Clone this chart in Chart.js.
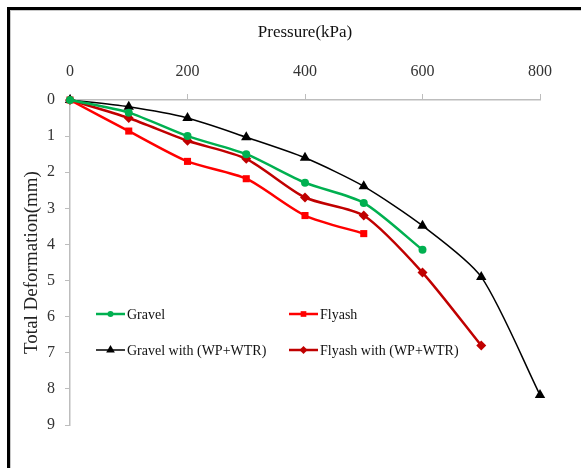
<!DOCTYPE html>
<html>
<head>
<meta charset="utf-8">
<script src="https://cdn.jsdelivr.net/npm/chart.js@4"></script>
<style>
  html, body { margin: 0; padding: 0; background: #fff; }
  #wrap { position: relative; width: 581px; height: 468px; overflow: hidden; }
  #frame { position: absolute; left: 7px; top: 7px; width: 600px; height: 500px;
           border-left: 3px solid #000; border-top: 3px solid #000; box-sizing: border-box; }
  #frame2 { position: absolute; left: 10px; top: 10px; width: 600px; height: 500px;
            border-left: 1px solid #c8c8c8; border-top: 1px solid #c8c8c8; box-sizing: border-box; }
  canvas { position: absolute; left: 0; top: 0; }
</style>
</head>
<body>
<div id="wrap">
  <div id="frame"></div>
  <div id="frame2"></div>
  <canvas id="chart" width="581" height="468"></canvas>
</div>
<script>
// Data
const pressure = [0, 100, 200, 300, 400, 500, 600, 700, 800];
const gravel = [0, 0.35, 1.0, 1.5, 2.29, 2.85, 4.15];
const flyash = [0, 0.86, 1.7, 2.18, 3.2, 3.7];
const gravelWp = [0, 0.19, 0.5, 1.03, 1.6, 2.39, 3.48, 4.9, 8.17];
const flyashWp = [0, 0.5, 1.13, 1.63, 2.7, 3.2, 4.78, 6.8];
const seriesNames = ['Gravel', 'Flyash', 'Gravel with (WP+WTR)', 'Flyash with (WP+WTR)'];
const xTicks = [0, 200, 400, 600, 800];
const yTicks = [0, 1, 2, 3, 4, 5, 6, 7, 8, 9];

const toPoints = (vals) => vals.map((v, i) => ({ x: pressure[i], y: v }));
const serif = '"Liberation Serif", "Times New Roman", serif';

function makeSet(label, vals, color, style, radius, width) {
    return {
        label: label,
        data: toPoints(vals),
        borderColor: color,
        backgroundColor: color,
        borderWidth: width,
        pointStyle: style,
        pointRadius: radius,
        pointBorderWidth: 0,
        tension: 0.25,
        clip: false
    };
}

// legend drawn inside the plot, two columns like the original
const insideLegend = {
    id: 'insideLegend',
    afterDraw(chart) {
        const ctx = chart.ctx;
        const spots = [[96, 314], [289, 314], [96, 350], [289, 350]];
        chart.data.datasets.forEach((ds, i) => {
            const [x, y] = spots[i];
            ctx.save();
            ctx.strokeStyle = ds.borderColor;
            ctx.lineWidth = ds.borderWidth;
            ctx.beginPath();
            ctx.moveTo(x, y);
            ctx.lineTo(x + 29, y);
            ctx.stroke();
            ctx.fillStyle = ds.backgroundColor;
            Chart.helpers.drawPoint(ctx, { pointStyle: ds.pointStyle, radius: ds.pointRadius - 1, borderWidth: 0 }, x + 14.5, y);
            ctx.fillStyle = '#111';
            ctx.font = '14px ' + serif;
            ctx.textBaseline = 'middle';
            ctx.fillText(ds.label, x + 31, y + 1);
            ctx.restore();
        });
    }
};

new Chart(document.getElementById('chart'), {
    type: 'line',
    data: {
        datasets: [
            makeSet(seriesNames[0], gravel, '#00B050', 'circle', 4, 2.5),
            makeSet(seriesNames[1], flyash, '#FF0000', 'rect', 5, 2.5),
            makeSet(seriesNames[2], gravelWp, '#000000', 'triangle', 6, 1.5),
            makeSet(seriesNames[3], flyashWp, '#C00000', 'rectRot', 5, 2.5)
        ]
    },
    options: {
        responsive: false,
        animation: false,
        layout: { padding: { left: 12, top: 14, right: 41, bottom: 43 } },
        plugins: { legend: { display: false }, tooltip: { enabled: false } },
        scales: {
            x: {
                type: 'linear',
                position: 'top',
                min: 0, max: 800,
                afterBuildTicks: (s) => { s.ticks = xTicks.map(v => ({ value: v })); },
                afterFit: (s) => { s.height = 86; },
                ticks: { color: '#333', font: { family: serif, size: 16 }, padding: 13 },
                grid: { drawOnChartArea: false, tickLength: 6, color: '#bdbdbd' },
                border: { color: '#bdbdbd', width: 1.5 },
                title: { display: true, text: 'Pressure(kPa)', color: '#111', font: { family: serif, size: 17 }, padding: { top: 8, bottom: 4 } }
            },
            y: {
                type: 'linear',
                reverse: true,
                min: 0, max: 9,
                afterBuildTicks: (s) => { s.ticks = yTicks.map(v => ({ value: v })); },
                afterFit: (s) => { s.width = 58; },
                ticks: { color: '#333', font: { family: serif, size: 16 }, padding: 10 },
                grid: { drawOnChartArea: false, tickLength: 5, color: '#bdbdbd' },
                border: { color: '#bdbdbd', width: 1.5 },
                title: { display: true, text: 'Total Deformation(mm)', color: '#222', font: { family: serif, size: 19 }, padding: { top: 9, bottom: 0 } }
            }
        }
    },
    plugins: [insideLegend]
});
</script>
</body>
</html>
